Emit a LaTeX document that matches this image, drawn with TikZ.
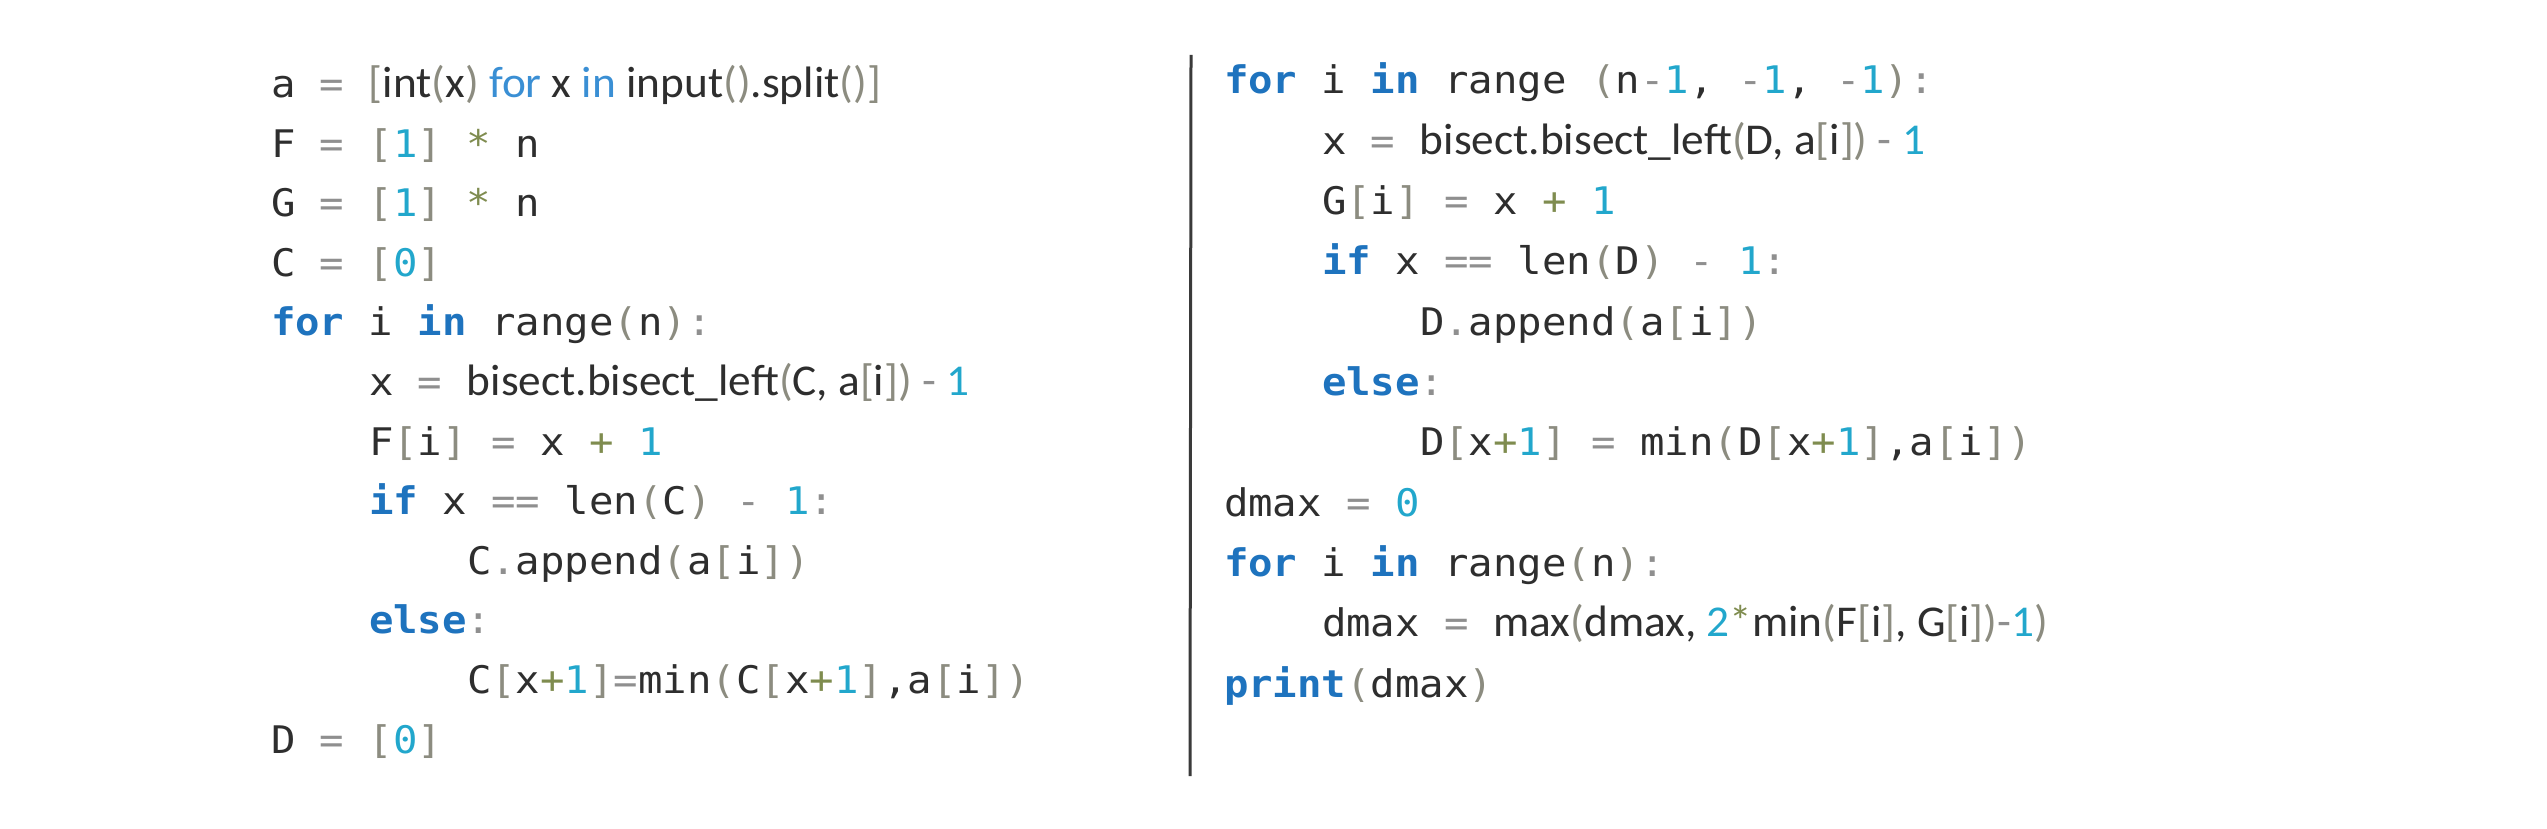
\documentclass[tikz,border=0pt]{standalone}
\usepackage{fontspec}
\setmainfont{Carlito}
\newfontfamily\monof[FakeStretch=1.07]{DejaVu Sans Mono}
\newfontfamily\propf[FakeStretch=1.03]{Carlito}
\definecolor{txt}{HTML}{2E2E2E}
\definecolor{kwc}{HTML}{1E73BE}
\definecolor{kwl}{HTML}{3A8FD4}
\definecolor{numc}{HTML}{22A7CC}
\definecolor{punc}{HTML}{8C8C80}
\definecolor{opc}{HTML}{7F8C4F}
\definecolor{eqc}{HTML}{8F8F8F}
\definecolor{rulec}{HTML}{3A3A3A}
\newcommand\MS{\monof\fontsize{38}{40}\selectfont}
\newcommand\PS{\propf\fontsize{44}{46}\selectfont}
\newcommand\cK[1]{{\bfseries\color{kwc}#1}}
\newcommand\cKp[1]{{\color{kwl}#1}}
\newcommand\cN[1]{{\color{numc}#1}}
\newcommand\cPu[1]{{\color{punc}#1}}
\newcommand\cOp[1]{{\color{opc}#1}}
\newcommand\cEq[1]{{\color{eqc}#1}}
\tikzset{code/.style={anchor=base west, inner sep=0pt, outer sep=0pt, text=txt, font=\MS},
  rule/.style={draw=rulec, line width=3pt}}
\begin{document}
\begin{tikzpicture}[x=1pt,y=-1pt]
\fill[white] (0,0) rectangle (2547,829);
\useasboundingbox (0,0) rectangle (2547,829);
% left column
\node[code] (l0) at (271,97.5) {a \cEq{=} \PS\cPu{[}int\cPu{(}x\cPu{)} \cKp{for} x \cKp{in} input\cPu{()}.split\cPu{()}\cPu{]}};
\node[code] (l1) at (271,157.1) {F \cEq{=} \cPu{[}\cN{1}\cPu{]} \cOp{*} n};
\node[code] (l2) at (271,216.7) {G \cEq{=} \cPu{[}\cN{1}\cPu{]} \cOp{*} n};
\node[code] (l3) at (271,276.3) {C \cEq{=} \cPu{[}\cN{0}\cPu{]}};
\node[code] (l4) at (271,335.9) {\cK{for} i \cK{in} range\cPu{(}n\cPu{)}\cEq{:}};
\node[code] (l5) at (369,395.5) {x \cEq{=} \PS bisect.bisect\_left\cPu{(}C, a\cPu{[}i\cPu{]}\cPu{)} \cEq{-} \cN{1}};
\node[code] (l6) at (369,455.1) {F\cPu{[}i\cPu{]} \cEq{=} x \cOp{+} \cN{1}};
\node[code] (l7) at (369,514.7) {\cK{if} x \cEq{==} len\cPu{(}C\cPu{)} \cEq{-} \cN{1}\cEq{:}};
\node[code] (l8) at (467,574.3) {C\cEq{.}append\cPu{(}a\cPu{[}i\cPu{]}\cPu{)}};
\node[code] (l9) at (369,633.9) {\cK{else}\cEq{:}};
\node[code] (l10) at (467,693.5) {C\cPu{[}x\cOp{+}\cN{1}\cPu{]}\cEq{=}min\cPu{(}C\cPu{[}x\cOp{+}\cN{1}\cPu{]},a\cPu{[}i\cPu{]}\cPu{)}};
\node[code] (l11) at (271,753.1) {D \cEq{=} \cPu{[}\cN{0}\cPu{]}};
% divider
\coordinate (vt) at (1191,55);
\coordinate (vb) at (1190,776);
\draw[rule] (vt) -- (vb);
% right column
\node[code] (r0) at (1224,94) {\cK{for} i \cK{in} range \cPu{(}n\cEq{-}\cN{1}, \cEq{-}\cN{1}, \cEq{-}\cN{1}\cPu{)}\cEq{:}};
\node[code] (r1) at (1322,154.3) {x \cEq{=} \PS bisect.bisect\_left\cPu{(}D, a\cPu{[}i\cPu{]}\cPu{)} \cEq{-} \cN{1}};
\node[code] (r2) at (1322,214.6) {G\cPu{[}i\cPu{]} \cEq{=} x \cOp{+} \cN{1}};
\node[code] (r3) at (1322,274.9) {\cK{if} x \cEq{==} len\cPu{(}D\cPu{)} \cEq{-} \cN{1}\cEq{:}};
\node[code] (r4) at (1420,335.2) {D\cEq{.}append\cPu{(}a\cPu{[}i\cPu{]}\cPu{)}};
\node[code] (r5) at (1322,395.5) {\cK{else}\cEq{:}};
\node[code] (r6) at (1420,455.8) {D\cPu{[}x\cOp{+}\cN{1}\cPu{]} \cEq{=} min\cPu{(}D\cPu{[}x\cOp{+}\cN{1}\cPu{]},a\cPu{[}i\cPu{]}\cPu{)}};
\node[code] (r7) at (1224,516.1) {dmax \cEq{=} \cN{0}};
\node[code] (r8) at (1224,576.4) {\cK{for} i \cK{in} range\cPu{(}n\cPu{)}\cEq{:}};
\node[code] (r9) at (1322,636.7) {dmax \cEq{=} \PS max\cPu{(}dmax, \cN{2}\cOp{*}min\cPu{(}F\cPu{[}i\cPu{]}, G\cPu{[}i\cPu{]}\cPu{)}\cEq{-}\cN{1}\cPu{)}};
\node[code] (r10) at (1224,697) {\cK{print}\cPu{(}dmax\cPu{)}};
\end{tikzpicture}
\end{document}
